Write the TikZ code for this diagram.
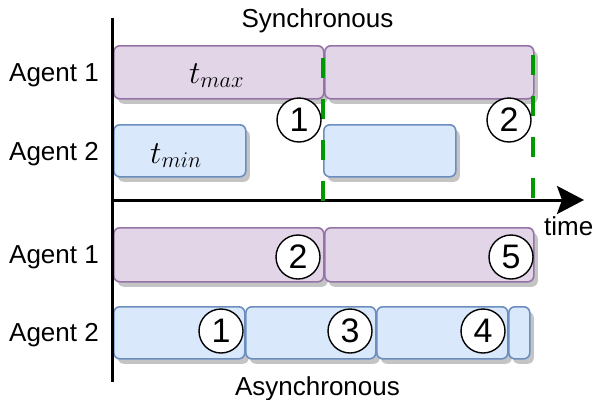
\RequirePackage{fix-cm}
\documentclass[tikz,border=0pt]{standalone}
\usepackage{fontspec}
\setmainfont{Liberation Sans}
\usetikzlibrary{arrows.meta,shadows}
\definecolor{pfill}{HTML}{E1D5E7}
\definecolor{pdraw}{HTML}{9673A6}
\definecolor{bfill}{HTML}{DAE8FC}
\definecolor{bdraw}{HTML}{6C8EBF}
\definecolor{gline}{RGB}{0,153,0}
\definecolor{shadowc}{HTML}{C4C4C4}
\tikzset{
  slot/.style={rectangle, rounded corners=6pt, line width=1.6pt, inner sep=0pt, anchor=north west,
    drop shadow={shadow xshift=4pt, shadow yshift=-5pt, fill=shadowc, opacity=1}},
  pslot/.style={slot, fill=pfill, draw=pdraw},
  bslot/.style={slot, fill=bfill, draw=bdraw},
  num/.style={circle, draw=black, fill=white, line width=1.4pt, minimum size=44pt, inner sep=0pt,
    font=\fontsize{34}{34}\selectfont},
  lbl/.style={font=\fontsize{26}{30}\selectfont, inner sep=0pt},
  mlbl/.style={anchor=base, inner sep=0pt, font=\fontsize{32}{32}\selectfont},
  sync/.style={gline, line width=4.5pt, dash pattern=on 20pt off 21pt},
}
\begin{document}
\begin{tikzpicture}[x=1pt,y=-1pt]
\useasboundingbox (0,0) rectangle (593,399);
% synchronous boxes
\node[pslot, minimum width=210pt, minimum height=53pt] (s1a) at (113,45) {};
\node[pslot, minimum width=209pt, minimum height=53pt] (s1b) at (324,45) {};
\node[bslot, minimum width=132pt, minimum height=52pt] (s2a) at (113,124) {};
\node[bslot, minimum width=132pt, minimum height=52pt] (s2b) at (323,124) {};
\node[mlbl] (tmax) at (216.5,83) {$t_{max}$};
\node[mlbl] (tmin) at (176,163) {$t_{min}$};
% asynchronous boxes
\node[pslot, minimum width=210pt, minimum height=54pt] (a1a) at (113,227) {};
\node[pslot, minimum width=209pt, minimum height=54pt] (a1b) at (324,227) {};
\node[bslot, minimum width=131pt, minimum height=52pt] (a2a) at (113,306) {};
\node[bslot, minimum width=130pt, minimum height=52pt] (a2b) at (245,306) {};
\node[bslot, minimum width=131pt, minimum height=52pt] (a2c) at (376,306) {};
\node[bslot, minimum width=21pt, minimum height=52pt] (a2d) at (508,306) {};
% axes
\coordinate (ytop) at (112,18);
\coordinate (ybot) at (112,382);
\coordinate (xs) at (112,200);
\coordinate (xe) at (584,200);
\draw[line width=3pt] (ytop) -- (ybot);
\draw[line width=3pt, -{Stealth[length=27pt,width=28pt,inset=5pt]}] (xs) -- (xe);
% sync lines
\coordinate (g1t) at (323,58);
\coordinate (g1b) at (323,201);
\coordinate (g2t) at (533,55);
\coordinate (g2b) at (533,201);
\draw[sync] (g1t) -- (g1b);
\draw[sync] (g2t) -- (g2b);
% circled numbers
\node[num] (n1s) at (299,120) {1};
\node[num] (n2s) at (509,120) {2};
\node[num] (n2a) at (298,257) {2};
\node[num] (n5a) at (511,257) {5};
\node[num] (n1a) at (221,331) {1};
\node[num] (n3a) at (350,331) {3};
\node[num] (n4a) at (483,331) {4};
% labels
\node[lbl, anchor=base east] (l1) at (99,81) {Agent 1};
\node[lbl, anchor=base east] (l2) at (99,160) {Agent 2};
\node[lbl, anchor=base east] (l3) at (99,263.5) {Agent 1};
\node[lbl, anchor=base east] (l4) at (99,341.5) {Agent 2};
\node[lbl, anchor=base] (syn) at (317.5,27) {Synchronous};
\node[lbl, anchor=base] (asy) at (317.5,395) {Asynchronous};
\node[lbl, anchor=base west] (time) at (544,235) {time};
\end{tikzpicture}
\end{document}
